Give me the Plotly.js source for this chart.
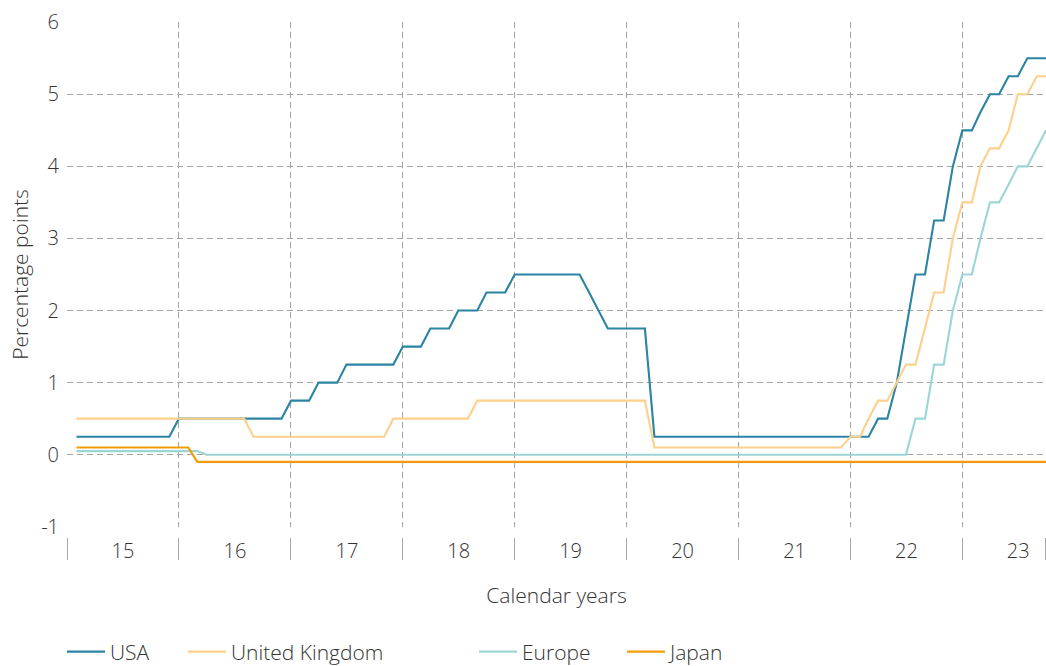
<!DOCTYPE html>
<html><head><meta charset="utf-8">
<script src="https://cdn.plot.ly/plotly-3.0.1.min.js"></script>
<style>html,body{margin:0;padding:0;background:#fff}#chart{width:1046px;height:666px}</style>
</head><body><div id="chart"></div>
<script>
// Monthly policy-rate readings, Feb 2015 .. Oct 2023 (one value per month)
const firstMonth = [2015, 2];
const lastMonth = [2023, 10];
const seriesNames = ['USA', 'United Kingdom', 'Europe', 'Japan'];
const yearTicks = ['2015-01-01','2016-01-01','2017-01-01','2018-01-01','2019-01-01','2020-01-01','2021-01-01','2022-01-01','2023-01-01'];
const yTickVals = [-1, 0, 1, 2, 3, 4, 5, 6];
const yTickText = ['-1', '0', '1', '2', '3', '4', '5', '6'];
const rangeStart = '2015-01-01';
const rangeEnd = '2023-10-01';

const usa = [
  0.25,0.25,0.25,0.25,0.25,0.25,0.25,0.25,0.25,0.25,0.25,
  0.5,0.5,0.5,0.5,0.5,0.5,0.5,0.5,0.5,0.5,0.5,0.5,
  0.75,0.75,0.75,1,1,1,1.25,1.25,1.25,1.25,1.25,1.25,
  1.5,1.5,1.5,1.75,1.75,1.75,2,2,2,2.25,2.25,2.25,
  2.5,2.5,2.5,2.5,2.5,2.5,2.5,2.5,2.25,2,1.75,1.75,
  1.75,1.75,1.75,0.25,0.25,0.25,0.25,0.25,0.25,0.25,0.25,0.25,
  0.25,0.25,0.25,0.25,0.25,0.25,0.25,0.25,0.25,0.25,0.25,0.25,
  0.25,0.25,0.25,0.5,0.5,1,1.75,2.5,2.5,3.25,3.25,4,
  4.5,4.5,4.75,5,5,5.25,5.25,5.5,5.5,5.5
];
const uk = [
  0.5,0.5,0.5,0.5,0.5,0.5,0.5,0.5,0.5,0.5,0.5,
  0.5,0.5,0.5,0.5,0.5,0.5,0.5,0.5,0.25,0.25,0.25,0.25,
  0.25,0.25,0.25,0.25,0.25,0.25,0.25,0.25,0.25,0.25,0.25,0.5,
  0.5,0.5,0.5,0.5,0.5,0.5,0.5,0.5,0.75,0.75,0.75,0.75,
  0.75,0.75,0.75,0.75,0.75,0.75,0.75,0.75,0.75,0.75,0.75,0.75,
  0.75,0.75,0.75,0.1,0.1,0.1,0.1,0.1,0.1,0.1,0.1,0.1,
  0.1,0.1,0.1,0.1,0.1,0.1,0.1,0.1,0.1,0.1,0.1,0.1,
  0.25,0.25,0.5,0.75,0.75,1,1.25,1.25,1.75,2.25,2.25,3,
  3.5,3.5,4,4.25,4.25,4.5,5,5,5.25,5.25
];
const europe = [
  0.05,0.05,0.05,0.05,0.05,0.05,0.05,0.05,0.05,0.05,0.05,
  0.05,0.05,0.05,0,0,0,0,0,0,0,0,0,
  0,0,0,0,0,0,0,0,0,0,0,0,
  0,0,0,0,0,0,0,0,0,0,0,0,
  0,0,0,0,0,0,0,0,0,0,0,0,
  0,0,0,0,0,0,0,0,0,0,0,0,
  0,0,0,0,0,0,0,0,0,0,0,0,
  0,0,0,0,0,0,0,0.5,0.5,1.25,1.25,2,
  2.5,2.5,3,3.5,3.5,3.75,4,4,4.25,4.5
];
const japan = [
  0.1,0.1,0.1,0.1,0.1,0.1,0.1,0.1,0.1,0.1,0.1,
  0.1,0.1,-0.1,-0.1,-0.1,-0.1,-0.1,-0.1,-0.1,-0.1,-0.1,-0.1,
  -0.1,-0.1,-0.1,-0.1,-0.1,-0.1,-0.1,-0.1,-0.1,-0.1,-0.1,-0.1,
  -0.1,-0.1,-0.1,-0.1,-0.1,-0.1,-0.1,-0.1,-0.1,-0.1,-0.1,-0.1,
  -0.1,-0.1,-0.1,-0.1,-0.1,-0.1,-0.1,-0.1,-0.1,-0.1,-0.1,-0.1,
  -0.1,-0.1,-0.1,-0.1,-0.1,-0.1,-0.1,-0.1,-0.1,-0.1,-0.1,-0.1,
  -0.1,-0.1,-0.1,-0.1,-0.1,-0.1,-0.1,-0.1,-0.1,-0.1,-0.1,-0.1,
  -0.1,-0.1,-0.1,-0.1,-0.1,-0.1,-0.1,-0.1,-0.1,-0.1,-0.1,-0.1,
  -0.1,-0.1,-0.1,-0.1,-0.1,-0.1,-0.1,-0.1,-0.1,-0.1
];

// month dates (x categories)
const months = [];
{
  let y = firstMonth[0], m = firstMonth[1];
  while (y < lastMonth[0] || (y === lastMonth[0] && m <= lastMonth[1])) {
    months.push(y + '-' + String(m).padStart(2, '0') + '-01');
    m++; if (m > 12) { m = 1; y++; }
  }
}

const colors = ['#2b84a2', '#fdd08b', '#9dd5d6', '#f39c0a'];
const values = [usa, uk, europe, japan];
const legendIds = ['legend', 'legend2', 'legend3', 'legend4'];
const legendTextStart = [111, 232, 523, 671];

const FONT = 'Open Sans, Noto Sans, sans-serif';
const TXT = '#333333';
const GRID = '#a3a3a3';
const LSIZE = 21;
const TSIZE = 20;
const W = 300;

const traces = values.map((v, i) => ({
  type: 'scatter', mode: 'lines', name: seriesNames[i],
  x: months, y: v, xaxis: 'x', yaxis: 'y',
  line: { color: colors[i], width: 2.1 },
  legend: legendIds[i], hoverinfo: 'x+y+name'
}));
// carriers for the tick axis and label axis (draw nothing)
traces.push({ type: 'scatter', mode: 'lines', x: [months[0]], y: [null], xaxis: 'x2', yaxis: 'y', showlegend: false, hoverinfo: 'skip' });
traces.push({ type: 'scatter', mode: 'lines', x: [months[0]], y: [null], xaxis: 'x3', yaxis: 'y', showlegend: false, hoverinfo: 'skip' });

const plotH = 666 - 22 - 129;
const plotW = 1046 - 67;
const layout = {
  width: 1046, height: 666,
  margin: { l: 67, r: 0, t: 22, b: 129, autoexpand: false },
  paper_bgcolor: '#fff', plot_bgcolor: '#fff',
  font: { family: FONT, size: 18, color: TXT, weight: W },
  showlegend: true,
  xaxis: {
    type: 'date', range: [rangeStart, rangeEnd],
    showgrid: true, gridcolor: GRID, gridwidth: 1, griddash: '6px,4px',
    tick0: rangeStart, dtick: 'M12', ticks: '', showticklabels: false,
    zeroline: false, showline: false, fixedrange: true
  },
  xaxis2: {
    type: 'date', range: [rangeStart, rangeEnd], overlaying: 'x', anchor: 'free', position: 0,
    tickmode: 'array', tickvals: yearTicks.concat(['2023-09-30']),
    ticks: 'outside', ticklen: 22, tickwidth: 1, tickcolor: '#a8a8a8',
    showticklabels: false, showgrid: false, zeroline: false, showline: false, fixedrange: true
  },
  xaxis3: {
    type: 'date', range: [rangeStart, rangeEnd], overlaying: 'x', anchor: 'free', position: 0,
    tick0: rangeStart, dtick: 'M12', tickformat: '%y', ticklabelmode: 'period',
    ticks: '', showgrid: false, zeroline: false, showline: false, fixedrange: true,
    tickfont: { family: FONT, size: TSIZE, color: TXT, weight: W },
    title: { text: 'Calendar years', font: { family: FONT, size: LSIZE, color: TXT, weight: W }, standoff: 25 }
  },
  yaxis: {
    domain: [10 / plotH, 1], range: [-1.003, 6.003],
    tickmode: 'array', tickvals: yTickVals, ticktext: yTickText,
    showgrid: true, gridcolor: GRID, gridwidth: 1, griddash: '6px,4px',
    zeroline: false, showline: false, ticks: '', ticklabelstandoff: 7,
    tickfont: { family: FONT, size: TSIZE, color: TXT, weight: W },
    title: { text: 'Percentage points', font: { family: FONT, size: LSIZE, color: TXT, weight: W }, standoff: 6 },
    fixedrange: true
  }
};
legendIds.forEach((id, i) => {
  layout[id] = {
    orientation: 'h', x: (legendTextStart[i] - 49 - 67) / plotW, xanchor: 'left',
    y: (537 - 652) / plotH, yanchor: 'middle', itemwidth: 38,
    font: { family: FONT, size: LSIZE, color: TXT, weight: W }, bgcolor: 'rgba(0,0,0,0)', borderwidth: 0
  };
});

Plotly.newPlot('chart', traces, layout, { displayModeBar: false, staticPlot: true });
</script>
</body></html>
